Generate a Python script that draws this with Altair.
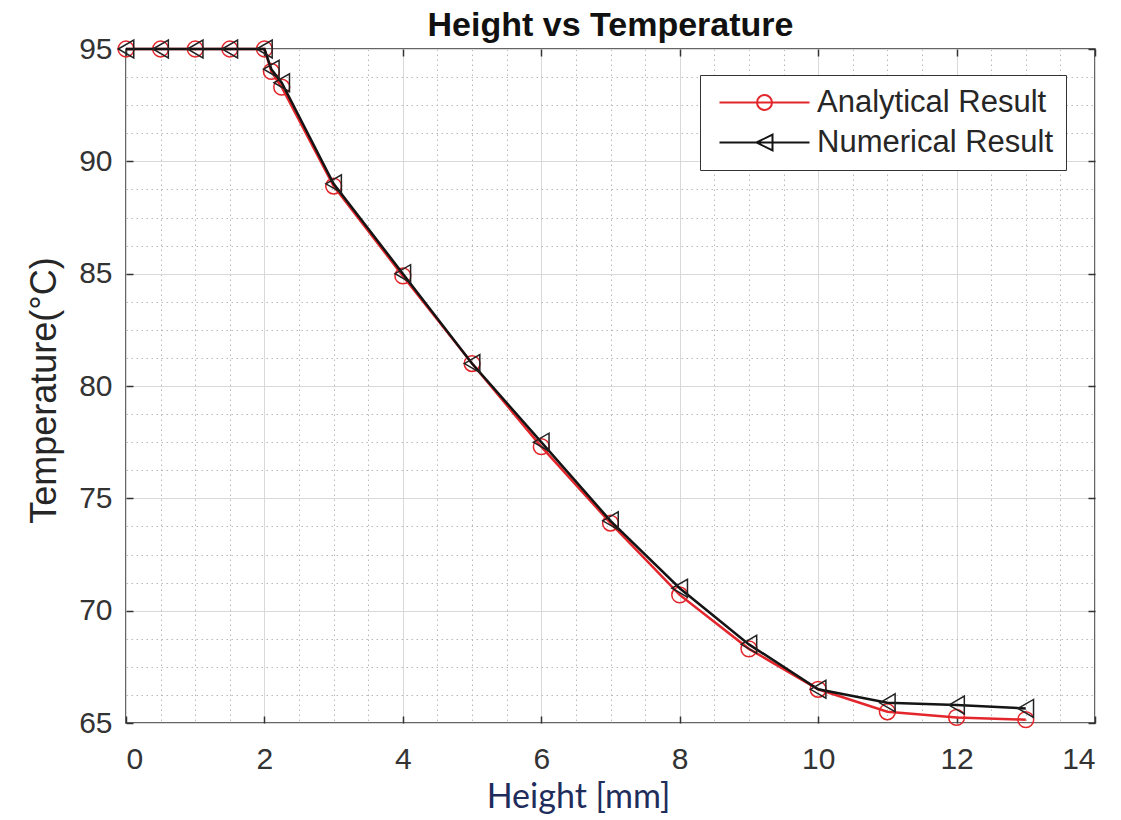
import altair as alt
import pandas as pd

# ---- data ----
height_mm = [0, 0.5, 1, 1.5, 2, 2.1, 2.25, 3, 4, 5, 6, 7, 8, 9, 10, 11, 12, 13]
analytical = [95, 95, 95, 95, 95, 94.0, 93.3, 88.9, 84.9, 81.0, 77.3, 73.9, 70.7, 68.3, 66.5, 65.5, 65.25, 65.15]
numerical = [95, 95, 95, 95, 95, 94.1, 93.5, 89.0, 85.0, 81.0, 77.5, 74.0, 71.0, 68.5, 66.5, 65.9, 65.8, 65.65]
series_names = ["Analytical Result", "Numerical Result"]

x_ticks = [0, 2, 4, 6, 8, 10, 12, 14]
y_ticks = [65, 70, 75, 80, 85, 90, 95]
x_minor = [0.5, 1, 1.5, 2.5, 3, 3.5, 4.5, 5, 5.5, 6.5, 7, 7.5, 8.5, 9, 9.5,
           10.5, 11, 11.5, 12.5, 13, 13.5]
y_minor = [66.25, 67.5, 68.75, 71.25, 72.5, 73.75, 76.25, 77.5, 78.75, 81.25,
           82.5, 83.75, 86.25, 87.5, 88.75, 91.25, 92.5, 93.75]

RED = "#e3262b"
BLACK = "#141414"
FONT = "Liberation Sans"

df_a = pd.DataFrame({"h": height_mm, "t": analytical})
df_n = pd.DataFrame({"h": height_mm, "t": numerical})
df_leg = pd.DataFrame({"series": series_names})

xs = alt.Scale(domain=[0, 14], nice=False, zero=False)
ys = alt.Scale(domain=[65, 95], nice=False, zero=False)

# axes
x_main = alt.Axis(orient="bottom", values=x_ticks, format="d", grid=True, gridColor="#d9d9d9",
                  gridWidth=1, ticks=False, domain=False, labelFont=FONT, labelFontSize=30,
                  labelColor="#333333", labelPadding=21, title="Height [mm]", titleFont="Lato",
                  titleFontSize=34, titleFontWeight="normal", titleColor="#1f2d5c",
                  titleX=452, titleY=84, titleAlign="center", titleBaseline="alphabetic")
y_main = alt.Axis(orient="left", values=y_ticks, format="d", grid=True, gridColor="#d9d9d9",
                  gridWidth=1, ticks=False, domain=False, labelFont=FONT, labelFontSize=30,
                  labelColor="#333333", labelPadding=14, title="Temperature(°C)", titleFont=FONT,
                  titleFontSize=36, titleFontWeight="normal", titleColor="#262626",
                  titleX=-71, titleY=341, titleAngle=270, titleAlign="center",
                  titleBaseline="alphabetic")
x_min_ax = alt.Axis(orient="bottom", values=x_minor, grid=True, gridDash=[1.5, 3.5],
                    gridColor="#b8b8b8", labels=False, ticks=False, domain=False, title=None)
y_min_ax = alt.Axis(orient="left", values=y_minor, grid=True, gridDash=[1.5, 3.5],
                    gridColor="#b8b8b8", labels=False, ticks=False, domain=False, title=None)


def tick_axis(orient, vals):
    return alt.Axis(orient=orient, values=vals, grid=False, labels=False, ticks=True,
                    tickSize=7, tickWidth=1.5, tickColor="#333333", domain=False,
                    offset=-7, title=None)


red_line = alt.Chart(df_a).mark_line(color=RED, strokeWidth=2.5).encode(
    x=alt.X("h:Q", scale=xs, axis=x_main),
    y=alt.Y("t:Q", scale=ys, axis=y_main),
)
red_pts = alt.Chart(df_a).mark_point(shape="circle", filled=False, color=RED, size=250,
                                      strokeWidth=1.5, opacity=1).encode(
    x=alt.X("h:Q", scale=xs, axis=x_min_ax),
    y=alt.Y("t:Q", scale=ys, axis=y_min_ax),
)
black_line = alt.Chart(df_n).mark_line(color=BLACK, strokeWidth=2.5).encode(
    x=alt.X("h:Q", scale=xs, axis=tick_axis("bottom", x_ticks)),
    y=alt.Y("t:Q", scale=ys, axis=tick_axis("left", y_ticks)),
)
black_pts = alt.Chart(df_n).mark_point(shape="triangle-left", filled=False, color="#222222",
                                        size=320, strokeWidth=1.5, opacity=1).encode(
    x=alt.X("h:Q", scale=xs, axis=tick_axis("top", x_ticks)),
    y=alt.Y("t:Q", scale=ys, axis=tick_axis("right", y_ticks)),
)

path_circle = "M-4.5,0H4.5M-0.75,0A0.75,0.75,0,1,0,0.75,0A0.75,0.75,0,1,0,-0.75,0"
path_tri = "M-4.5,0H4.5M-0.8,0L0.8,-0.8L0.8,0.8Z"

legend = alt.Legend(title=None, orient="none", legendX=574, legendY=26, padding=12,
                    rowPadding=8, symbolSize=400, symbolStrokeWidth=2, symbolOffset=37,
                    labelOffset=37, labelLimit=500, labelFont=FONT, labelFontSize=31,
                    labelColor="#262626", strokeColor="#333333", fillColor="white",
                    symbolFillColor="transparent")

leg_layer = alt.Chart(df_leg).transform_filter("false").mark_point(
    filled=False, strokeWidth=2, size=400, opacity=1).encode(
    color=alt.Color("series:N", scale=alt.Scale(domain=series_names, range=[RED, BLACK]),
                    legend=legend),
    shape=alt.Shape("series:N", scale=alt.Scale(domain=series_names,
                                                range=[path_circle, path_tri]),
                    legend=legend),
)

chart = alt.layer(red_line, red_pts, black_line, black_pts, leg_layer).resolve_scale(
    x="shared", y="shared"
).resolve_axis(
    x="independent", y="independent"
).properties(
    width=969,
    height=674,
    title=alt.TitleParams("Height vs Temperature", font=FONT, fontSize=34, fontWeight="bold",
                          color="#111111", anchor="middle", offset=12, dy=48,
                          baseline="alphabetic"),
    autosize=alt.AutoSizeParams(type="none"),
    padding={"left": 126, "top": 49, "right": 26, "bottom": 97},
).configure_view(stroke="#333333", strokeWidth=1.5)

chart.save("out.html", embed_options={"renderer": "svg", "actions": False})
